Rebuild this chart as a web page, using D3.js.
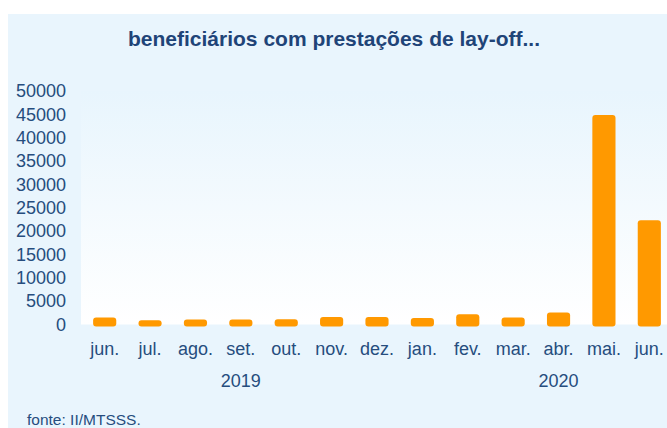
<!DOCTYPE html>
<html><head><meta charset="utf-8">
<script src="https://cdn.jsdelivr.net/npm/d3@7"></script>
<style>html,body{margin:0;padding:0;background:#fff;}svg{display:block;}</style>
</head><body>
<svg id="c" width="667" height="428"></svg>
<script>
const months = ["jun.","jul.","ago.","set.","out.","nov.","dez.","jan.","fev.","mar.","abr.","mai.","jun. "];
const values = [1500, 930, 1070, 1070, 1140, 1630, 1630, 1410, 2200, 1500, 2570, 44850, 22300];
const yTicks = [0,5000,10000,15000,20000,25000,30000,35000,40000,45000,50000];
const years = [
  {label:"2019", from:0, to:6},
  {label:"2020", from:8, to:12}
];
const title = "beneficiários com prestações de lay-off...";
const source = "fonte: II/MTSSS.";

const svg = d3.select("#c");
const textColor = "#264d7e";
const font = "'Liberation Sans', Arial, sans-serif";

const defs = svg.append("defs");
const g = defs.append("linearGradient").attr("id","pg").attr("x1",0).attr("y1",0).attr("x2",0).attr("y2",1);
g.append("stop").attr("offset","0%").attr("stop-color","#e8f5fd");
g.append("stop").attr("offset","100%").attr("stop-color","#ffffff");

svg.append("rect").attr("x",8).attr("y",14).attr("width",659).attr("height",414).attr("fill","#e9f5fd");

const x = d3.scaleBand().domain(months.map((m,i)=>i)).range([82,672]).paddingInner(0.49).paddingOuter(0.245);
const y = d3.scaleLinear().domain([0,50000]).range([324.5,91]);

svg.append("rect").attr("x",81).attr("y",y(50000)).attr("width",667-81).attr("height",y(0)-y(50000)).attr("fill","url(#pg)");

svg.append("text").attr("x",334).attr("y",46).attr("text-anchor","middle")
  .attr("font-family",font).attr("font-weight","bold").attr("font-size",21).attr("fill","#1f4478").text(title);

// y axis
const ya = svg.append("g").attr("transform","translate(66,0)")
  .call(d3.axisLeft(y).tickValues(yTicks).tickSize(0).tickPadding(0).tickFormat(d3.format("d")));
ya.select(".domain").remove();
ya.selectAll("text").attr("font-family",font).attr("font-size",18).attr("fill",textColor);

// bars
svg.append("g").selectAll("rect").data(values).join("rect")
  .attr("x",(d,i)=>x(i)).attr("width",x.bandwidth())
  .attr("y",d=>y(d)).attr("height",d=>y(0)-y(d)+2)
  .attr("rx",3).attr("fill","#ff9900");

// x axis labels
const xa = svg.append("g").attr("transform",`translate(0,${y(0)})`)
  .call(d3.axisBottom(x).tickSize(0).tickPadding(18).tickFormat(i=>months[i].trim()));
xa.select(".domain").remove();
xa.selectAll("text").attr("font-family",font).attr("font-size",18).attr("fill",textColor);

// year labels
svg.append("g").selectAll("text").data(years).join("text")
  .attr("x",d=>(x(d.from)+x(d.to))/2 + x.bandwidth()/2).attr("y",387)
  .attr("text-anchor","middle").attr("font-family",font).attr("font-size",18).attr("fill",textColor)
  .text(d=>d.label);

svg.append("text").attr("x",27).attr("y",425).attr("font-family",font).attr("font-size",15.5).attr("fill",textColor).text(source);
</script>
</body></html>
